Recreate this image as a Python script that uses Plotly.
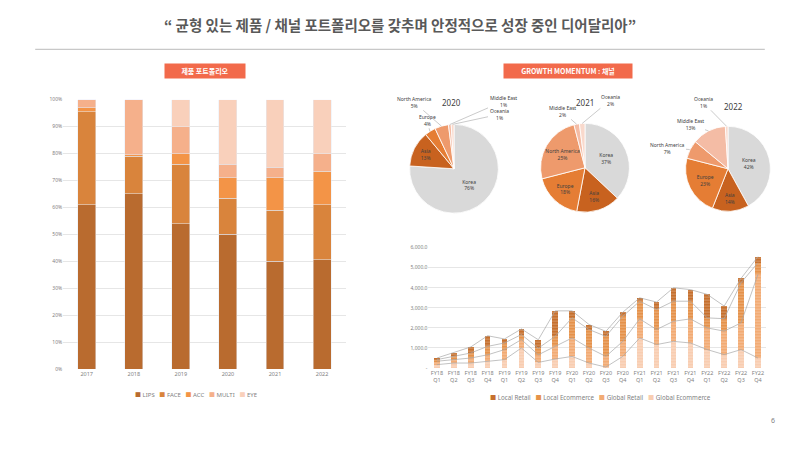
import plotly.graph_objects as go
import numpy as np

# ---------------- data ----------------
years = ['2017', '2018', '2019', '2020', '2021', '2022']
lips = [61, 65, 54, 50, 40, 40.5]
face = [34.5, 14, 22, 13.5, 19, 20.5]
acc = [1.5, 0.5, 4, 7.5, 12, 12.5]
multi = [3, 20.5, 10, 5, 4, 6.5]
eye = [0, 0, 10, 24, 25, 20]
product_names = ['LIPS', 'FACE', 'ACC', 'MULTI', 'EYE']
product_colors = ['#b96b2f', '#d9843c', '#f39447', '#f5b08b', '#f9d0bb']
y1_ticks = list(range(0, 101, 10))
y1_ticktext = [f'{v}%' for v in y1_ticks]

regions = ['Korea', 'Asia', 'Europe', 'North America', 'Middle East', 'Oceania']
pie_years = ['2020', '2021', '2022']
share_2020 = [76, 13, 4, 5, 1, 1]
share_2021 = [37, 16, 18, 25, 2, 2]
share_2022 = [42, 14, 23, 7, 13, 1]
region_colors = ['#d9d9d9', '#c8621f', '#e57d34', '#ee9a6c', '#f4bca5', '#f9d9cc']
inside_2020 = [True, True, False, False, False, False]
inside_2021 = [True, True, True, True, False, False]
inside_2022 = [True, True, True, False, False, False]

quarters = ['FY18<br>Q1', 'FY18<br>Q2', 'FY18<br>Q3', 'FY18<br>Q4',
            'FY19<br>Q1', 'FY19<br>Q2', 'FY19<br>Q3', 'FY19<br>Q4',
            'FY20<br>Q1', 'FY20<br>Q2', 'FY20<br>Q3', 'FY20<br>Q4',
            'FY21<br>Q1', 'FY21<br>Q2', 'FY21<br>Q3', 'FY21<br>Q4',
            'FY22<br>Q1', 'FY22<br>Q2', 'FY22<br>Q3', 'FY22<br>Q4']
global_ecommerce = [170, 250, 250, 330, 420, 1000, 280, 450, 580, 250, 50, 580, 1500, 1170, 1330, 1250, 920, 670, 920, 500]
global_retail = [170, 170, 250, 330, 500, 420, 380, 630, 920, 750, 530, 750, 950, 750, 1000, 1200, 1080, 1170, 1330, 4170]
local_ecommerce = [80, 170, 250, 420, 330, 250, 330, 500, 1000, 920, 1000, 1250, 880, 1000, 1000, 880, 500, 620, 2000, 580]
local_retail = [80, 170, 300, 530, 200, 280, 420, 1270, 350, 250, 250, 200, 170, 370, 670, 580, 1170, 630, 220, 300]
channel_names = ['Global Ecommerce', 'Global Retail', 'Local Ecommerce', 'Local Retail']
channel_colors = ['#f8cdb1', '#f2ab74', '#e5924b', '#c6702e']
y2_ticks = [0, 1000, 2000, 3000, 4000, 5000, 6000]
y2_ticktext = ['-', '1,000.0', '2,000.0', '3,000.0', '4,000.0', '5,000.0', '6,000.0']

FONT = 'Noto Sans, Noto Sans CJK KR, sans-serif'
GRAY = '#7f7f7f'
W, H = 800, 450

fig = go.Figure()

# ---------------- left stacked 100% bars ----------------
for name, vals, col in zip(product_names, [lips, face, acc, multi, eye], product_colors):
    fig.add_trace(go.Bar(x=years, y=vals, name=name, marker_color=col, width=0.38,
                         xaxis='x', yaxis='y', showlegend=False, hoverinfo='skip'))

# ---------------- right stacked bars with series lines ----------------
series = [global_ecommerce, global_retail, local_ecommerce, local_retail]
for name, vals, col in zip(channel_names, series, channel_colors):
    fig.add_trace(go.Bar(x=quarters, y=vals, name=name, width=0.34,
                         marker=dict(color=col, line=dict(width=0),
                                     pattern=dict(shape='-', size=3, solidity=0.25,
                                                  fgcolor='#ffffff', fgopacity=0.35)),
                         xaxis='x2', yaxis='y2', showlegend=False, hoverinfo='skip'))
cum = np.cumsum(np.array(series), axis=0)
for row in cum:
    fig.add_trace(go.Scatter(x=quarters, y=row, mode='lines',
                             line=dict(color='#a8a8a8', width=0.7),
                             showlegend=False, hoverinfo='skip',
                             xaxis='x2', yaxis='y2'))

# ---------------- pies ----------------
# pie layout: centre (px) and radius (px)
pie_geo = [(454, 168, 45), (585, 167, 45), (728, 168, 43)]
pie_title_pos = [(452, 101), (585, 101), (733, 105)]
# where the outside labels sit (px), in slice order, for slices shown outside
outside_label_pos = [
    {2: (427, 119), 3: (414, 101), 4: (503, 100), 5: (499, 113)},
    {4: (562, 110), 5: (610, 99)},
    {3: (667, 147), 4: (690, 123), 5: (703, 101)},
]

annotations = []
for yr, vals, inside, (cx, cy, r), lab_pos in zip(
        pie_years, [share_2020, share_2021, share_2022],
        [inside_2020, inside_2021, inside_2022], pie_geo, outside_label_pos):
    dom = dict(x=[(cx - r) / W, (cx + r) / W], y=[1 - (cy + r) / H, 1 - (cy - r) / H])
    fig.add_trace(go.Pie(labels=regions, values=vals, domain=dom, sort=False,
                         direction='clockwise', rotation=0,
                         marker=dict(colors=region_colors, line=dict(color='white', width=0.8)),
                         textposition=['inside' if f else 'none' for f in inside],
                         texttemplate='%{label}<br>%{percent:.0%}',
                         textfont=dict(size=5, color='#404040', family=FONT),
                         insidetextorientation='horizontal',
                         showlegend=False, hoverinfo='skip'))
    total = float(sum(vals))
    mids = (np.cumsum(vals) - np.array(vals) / 2) / total * 2 * np.pi
    for i, (lab, v) in enumerate(zip(regions, vals)):
        if inside[i]:
            continue
        tx = cx + r * np.sin(mids[i])
        ty = cy - r * np.cos(mids[i])
        lx, ly = lab_pos[i]
        annotations.append(dict(
            text=f'{lab}<br>{round(100 * v / total):.0f}%', x=tx / W, y=1 - ty / H,
            xref='paper', yref='paper', ax=lx - tx, ay=ly - ty, axref='pixel', ayref='pixel',
            showarrow=True, arrowhead=0, arrowwidth=0.6, arrowcolor='#a6a6a6', standoff=0,
            font=dict(size=5, color='#404040', family=FONT)))


def legend_text(names, colors):
    parts = [f'<span style="color:{c}">■</span> {n}' for n, c in zip(names, colors)]
    return '   '.join(parts)


annotations += [
    dict(text='<b>“ 균형 있는 제품 / 채널 포트폴리오를 갖추며 안정적으로 성장 중인 디어달리아”</b>',
         x=0.5, y=1 - 22 / H, xref='paper', yref='paper', showarrow=False,
         font=dict(size=14.5, color='#595959', family='Noto Sans CJK KR'),
         xanchor='center', yanchor='middle'),
    dict(text='<b>제품 포트폴리오</b>', x=205 / W, y=1 - 69 / H, xref='paper', yref='paper',
         showarrow=False, bgcolor='#f26a4b', font=dict(size=7, color='white', family='Noto Sans CJK KR'),
         width=78, height=12, xanchor='center', yanchor='middle'),
    dict(text='<b>GROWTH MOMENTUM : 채널</b>', x=568 / W, y=1 - 69 / H, xref='paper', yref='paper',
         showarrow=False, bgcolor='#f26a4b', font=dict(size=7, color='white', family='Noto Sans CJK KR'),
         width=126, height=12, xanchor='center', yanchor='middle'),
    dict(text='6', x=773 / W, y=1 - 423 / H, xref='paper', yref='paper', showarrow=False,
         font=dict(size=7, color=GRAY, family=FONT), xanchor='center', yanchor='middle'),
    dict(text=legend_text(product_names, product_colors), x=196 / W, y=1 - 397 / H,
         xref='paper', yref='paper', showarrow=False, xanchor='center', yanchor='middle',
         font=dict(size=6, color=GRAY, family=FONT)),
    dict(text=legend_text(channel_names[::-1], channel_colors[::-1]), x=600 / W, y=1 - 400 / H,
         xref='paper', yref='paper', showarrow=False, xanchor='center', yanchor='middle',
         font=dict(size=6.2, color=GRAY, family=FONT)),
]
for yr, (px, py) in zip(pie_years, pie_title_pos):
    annotations.append(dict(text=yr, x=px / W, y=1 - py / H, xref='paper', yref='paper',
                            showarrow=False, xanchor='center', yanchor='middle',
                            font=dict(size=8, color='#404040', family=FONT)))

axis_font = dict(size=5.5, color=GRAY, family=FONT)
fig.update_layout(
    width=W, height=H,
    margin=dict(l=0, r=0, t=0, b=0),
    paper_bgcolor='white', plot_bgcolor='white',
    barmode='stack',
    font=dict(family=FONT),
    xaxis=dict(domain=[0.079, 0.432], tickfont=axis_font, showgrid=False,
               showline=False, ticks=''),
    yaxis=dict(domain=[0.1756, 0.7822], range=[0, 100], tickvals=y1_ticks,
               ticktext=y1_ticktext, tickfont=dict(size=5, color=GRAY, family=FONT),
               gridcolor='#e6e6e6', gridwidth=0.6, zeroline=False, showline=False, ticks=''),
    xaxis2=dict(domain=[0.5356, 0.958], tickfont=dict(size=5.5, color=GRAY, family=FONT),
                tickangle=0, showgrid=False, showline=False, ticks='', anchor='y2'),
    yaxis2=dict(domain=[0.1778, 0.449], range=[0, 6000], tickvals=y2_ticks,
                ticktext=y2_ticktext, tickfont=dict(size=5, color=GRAY, family=FONT),
                gridcolor='#e6e6e6', gridwidth=0.6, zeroline=False, showline=False,
                ticks='', anchor='x2'),
    shapes=[dict(type='line', xref='paper', yref='paper', x0=0.044, x1=0.956,
                 y0=1 - 47 / H, y1=1 - 47 / H, line=dict(color='#c8c8c8', width=1.2))],
    annotations=annotations,
)

fig.write_html('out.html', config={'displayModeBar': False},
               post_script="document.body.style.margin='0px';document.body.style.overflow='hidden';")
